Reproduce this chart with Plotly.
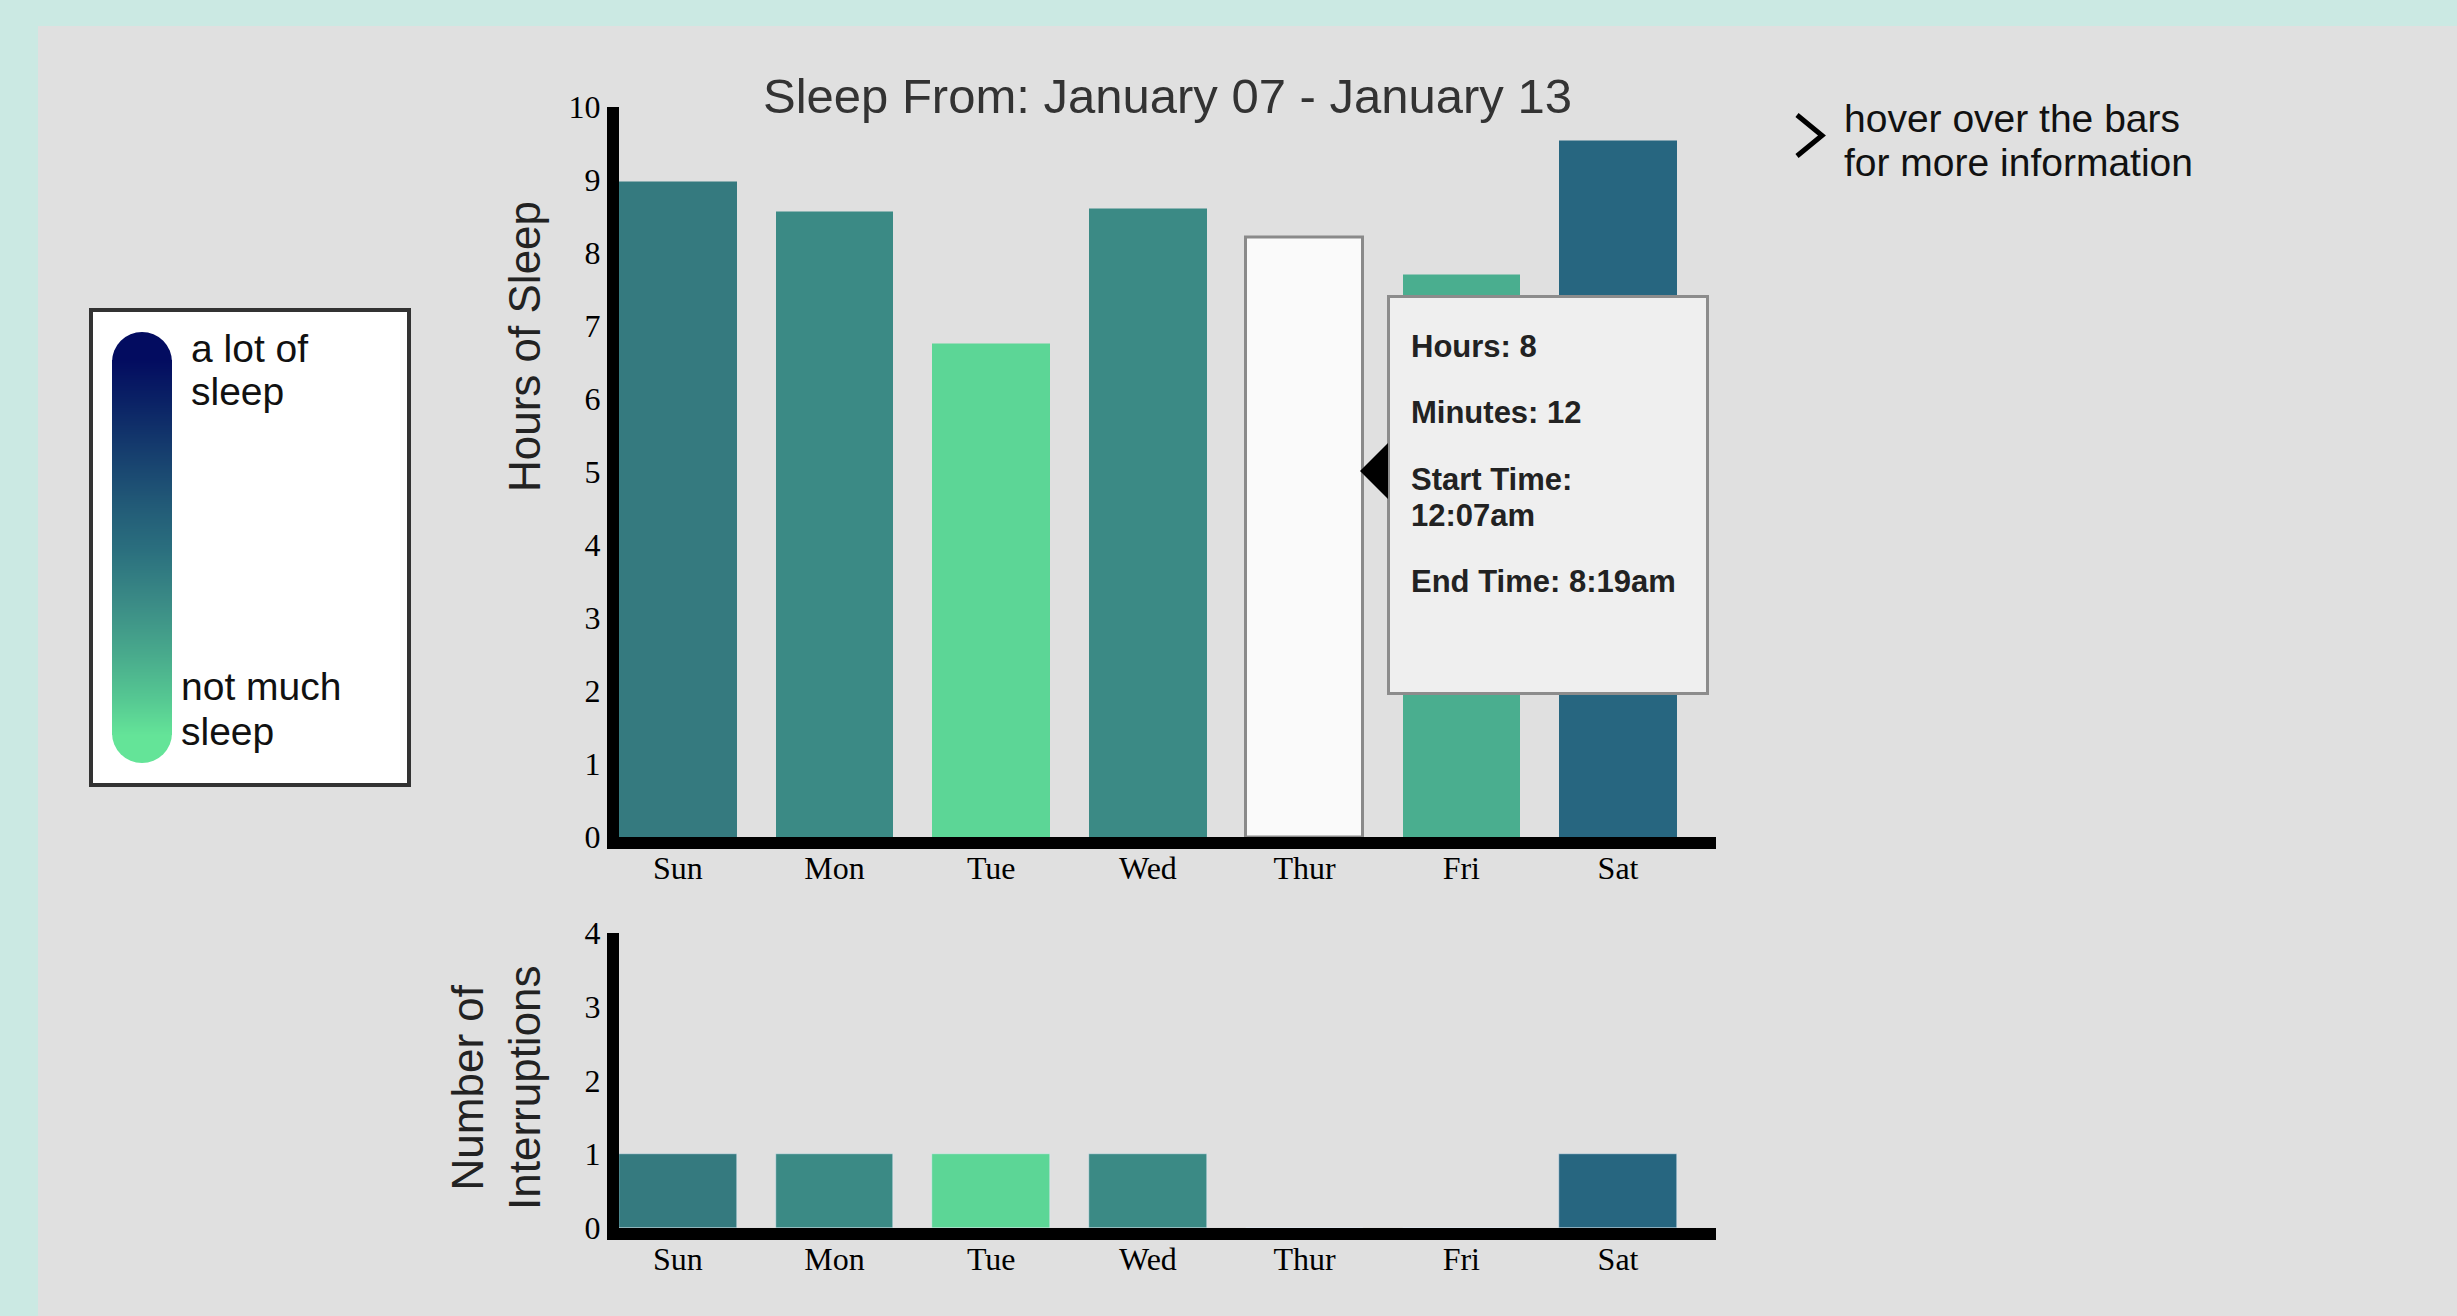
import plotly.graph_objects as go

# ---- data -------------------------------------------------------------
days = ["Sun", "Mon", "Tue", "Wed", "Thur", "Fri", "Sat"]
hours_slept = [8.967, 8.567, 6.75, 8.6, 8.2, 7.7, 9.533]
interruptions = [1, 1, 1, 1, 0, 0, 1]
hours_ticks = list(range(0, 11))
interruption_ticks = list(range(0, 5))

title_text = "Sleep From: January 07 - January 13"
tooltip_lines = ["Hours: 8", "Minutes: 12", "Start Time:", "12:07am", "End Time: 8:19am"]

# ---- styles -----------------------------------------------------------
bar_colors = ["#357a7f", "#3b8a85", "#5cd696", "#3b8a85", "#fafafa", "#4aae8f", "#276680"]
bar_line_colors = ["rgba(0,0,0,0)"] * 4 + ["#8a8a8a"] + ["rgba(0,0,0,0)"] * 2
bar_line_widths = [0, 0, 0, 0, 3, 0, 0]
ramp_bottom, ramp_top = "#64e498", "#030c60"
legend_scale = [
    [0.0, ramp_bottom], [0.1, "#55c792"], [0.22, "#48a98c"], [0.35, "#3b8c86"],
    [0.5, "#2a6e7e"], [0.6, "#235d78"], [0.74, "#17416f"], [0.88, "#0b2466"],
    [1.0, ramp_top],
]

W, H = 2457, 1316


def px(x):
    return x / W


def py(y):
    return 1 - y / H


SANS = "Liberation Sans, Arial, Helvetica, sans-serif"
SERIF = "Liberation Serif, Times New Roman, serif"
TICK_FONT = dict(family=SERIF, size=32, color="black")

fig = go.Figure()

# hours of sleep
fig.add_trace(go.Bar(
    x=days, y=hours_slept, width=0.75,
    marker=dict(color=bar_colors, line=dict(color=bar_line_colors, width=bar_line_widths)),
    xaxis="x", yaxis="y", showlegend=False, hoverinfo="skip",
))
# interruptions
fig.add_trace(go.Bar(
    x=days, y=interruptions, width=0.75,
    marker=dict(color=bar_colors),
    xaxis="x2", yaxis="y2", showlegend=False, hoverinfo="skip",
))
# gradient ramp of the colour key
fig.add_trace(go.Heatmap(
    z=[[0, 0], [1, 1]], x=[0, 1], y=[0, 1], zmin=0, zmax=1,
    colorscale=legend_scale, showscale=False, zsmooth="best",
    xaxis="x3", yaxis="y3", hoverinfo="skip",
))

axis_common = dict(
    showline=True, linecolor="black", linewidth=12, showgrid=False, zeroline=False,
    ticks="", fixedrange=True, automargin=False, tickfont=TICK_FONT,
)
x_common = dict(type="category", categoryorder="array", categoryarray=days,
                range=[-0.375, 6.625], ticklabelstandoff=-8, **axis_common)
fig.update_layout(
    width=W, height=H,
    margin=dict(l=0, r=0, t=0, b=0, pad=0, autoexpand=False),
    paper_bgcolor="#cbe9e3",
    plot_bgcolor="rgba(0,0,0,0)",
    showlegend=False,
    xaxis=dict(domain=[px(619), px(1716)], anchor="y", **x_common),
    yaxis=dict(domain=[py(837), py(106.5)], anchor="x", range=[0, 10],
               tickvals=hours_ticks, **axis_common),
    xaxis2=dict(domain=[px(619), px(1716)], anchor="y2", **x_common),
    yaxis2=dict(domain=[py(1228), py(933)], anchor="x2", range=[0, 4],
                tickvals=interruption_ticks, **axis_common),
    xaxis3=dict(domain=[px(112), px(172)], anchor="y3", range=[0, 1], visible=False,
                fixedrange=True, automargin=False),
    yaxis3=dict(domain=[py(735), py(360)], anchor="x3", range=[0, 1], visible=False,
                fixedrange=True, automargin=False),
    bargap=0,
)

shapes = [
    # grey page panel
    dict(type="rect", xref="paper", yref="paper", x0=px(38), x1=1.01, y0=-0.01, y1=py(26),
         fillcolor="#e0e0e0", line=dict(width=0), layer="below"),
    # colour key box
    dict(type="rect", xref="paper", yref="paper", x0=px(91), x1=px(409), y0=py(785), y1=py(310),
         fillcolor="white", line=dict(color="#333333", width=4), layer="below"),
    # rounded ends of the ramp
    dict(type="circle", xref="paper", yref="paper", x0=px(112), x1=px(172), y0=py(392), y1=py(332),
         fillcolor=ramp_top, line=dict(width=0), layer="below"),
    dict(type="circle", xref="paper", yref="paper", x0=px(112), x1=px(172), y0=py(763), y1=py(703),
         fillcolor=ramp_bottom, line=dict(width=0), layer="below"),
    # tooltip box and pointer
    dict(type="rect", xref="paper", yref="paper", x0=px(1388.5), x1=px(1707.5), y0=py(693.5), y1=py(296.5),
         fillcolor="#efefef", line=dict(color="#8c8c8c", width=3)),
    dict(type="path", xref="paper", yref="paper",
         path=f"M {px(1388)},{py(443)} L {px(1360)},{py(471)} L {px(1388)},{py(499)} Z",
         fillcolor="black", line=dict(width=0)),
    # chevron next to the hint
    dict(type="path", xref="paper", yref="paper",
         path=f"M {px(1797)},{py(115)} L {px(1822)},{py(135.5)} L {px(1797)},{py(156)}",
         line=dict(color="black", width=5)),
]
fig.update_layout(shapes=shapes)

annotations = []


def text(x, y, s, size, color="#111111", family=SANS, xanchor="left", **kw):
    annotations.append(dict(x=px(x), y=py(y), xref="paper", yref="paper", text=s,
                            showarrow=False, xanchor=xanchor, yanchor="middle",
                            font=dict(family=family, size=size, color=color), **kw))


text(1167.5, 113 - 0.35 * 49, title_text, 49, color="#333333", xanchor="center")
text(1842, 132 - 0.35 * 39, "hover over the bars", 39)
text(1842, 176 - 0.35 * 39, "for more information", 39)
text(189, 362 - 0.35 * 39, "a lot of", 39)
text(189, 405 - 0.35 * 39, "sleep", 39)
text(179, 700 - 0.35 * 39, "not much", 39)
text(179, 745 - 0.35 * 39, "sleep", 39)
for line, base in zip(tooltip_lines, [357, 423, 490, 526, 592]):
    text(1409, base - 0.35 * 31, f"<b>{line}</b>", 31, color="#222222")
text(525, 347, "Hours of Sleep", 44, color="#222222", xanchor="center", textangle=-90)
text(496, 1088, "Number of<br>Interruptions", 44, color="#222222", xanchor="center", textangle=-90)

fig.update_layout(annotations=annotations)

# the page itself carries no margin, so the 2457x1316 figure fills the window exactly
page_css = (
    "document.documentElement.style.margin='0';"
    "document.body.style.margin='0';"
    "document.body.style.padding='0';"
    "document.documentElement.style.overflow='hidden';"
    "document.body.style.overflow='hidden';"
)
fig.write_html("out.html", config={"displayModeBar": False}, post_script=page_css)
